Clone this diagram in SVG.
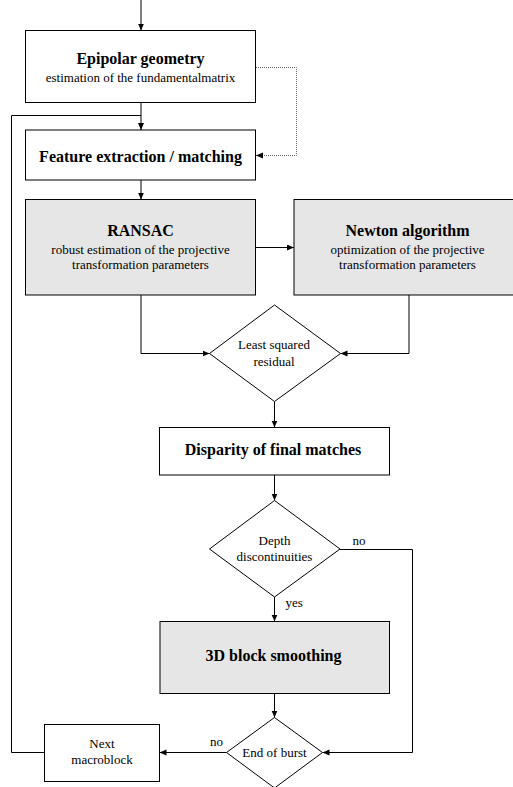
<svg xmlns="http://www.w3.org/2000/svg" width="513" height="787" viewBox="0 0 513 787">
  <style>
    .box { fill: #ffffff; stroke: #000; stroke-width: 1; }
    .shade { fill: #e6e6e6; stroke: #000; stroke-width: 1; }
    .dia { fill: #ffffff; stroke: #000; stroke-width: 1; }
    .wire { fill: none; stroke: #000; stroke-width: 1; }
    .dot { fill: none; stroke: #666; stroke-width: 1; stroke-dasharray: 1 1; }
    .title { font-family: "Liberation Serif", "Times New Roman", serif; font-weight: bold; font-size: 16px; fill: #000; text-anchor: middle; }
    .sub { font-family: "Liberation Serif", "Times New Roman", serif; font-size: 13px; fill: #000; text-anchor: middle; }
    .lbl { font-family: "Liberation Serif", "Times New Roman", serif; font-size: 13px; fill: #000; }
  </style>
  <defs>
    <marker id="arr" markerUnits="userSpaceOnUse" markerWidth="8" markerHeight="7" refX="7" refY="3" orient="auto">
      <path d="M0,0 L7,3 L0,6 z" fill="#000"/>
    </marker>
  </defs>

  <rect width="513" height="787" fill="#ffffff"/>

  <!-- connectors -->
  <g id="connectors">
    <line class="wire" x1="141" y1="0" x2="141" y2="30.5" marker-end="url(#arr)"/>
    <line class="wire" x1="141" y1="102.5" x2="141" y2="130" marker-end="url(#arr)"/>
    <polyline class="dot" points="256,67.5 296.5,67.5 296.5,155.5 256,155.5" marker-end="url(#arr)"/>
    <line class="wire" x1="141" y1="180" x2="141" y2="199.5" marker-end="url(#arr)"/>
    <line class="wire" x1="256" y1="247.5" x2="294" y2="247.5" marker-end="url(#arr)"/>
    <polyline class="wire" points="141,295 141,353.5 209.5,353.5" marker-end="url(#arr)"/>
    <polyline class="wire" points="409,295 409,353.5 340.5,353.5" marker-end="url(#arr)"/>
    <line class="wire" x1="274.5" y1="401.5" x2="274.5" y2="427.5" marker-end="url(#arr)"/>
    <line class="wire" x1="274.5" y1="475" x2="274.5" y2="500.5" marker-end="url(#arr)"/>
    <line class="wire" x1="274.5" y1="597" x2="274.5" y2="621.5" marker-end="url(#arr)"/>
    <line class="wire" x1="274.5" y1="693.5" x2="274.5" y2="717.5" marker-end="url(#arr)"/>
    <polyline class="wire" points="340,549.5 412.5,549.5 412.5,752.5 322.5,752.5" marker-end="url(#arr)"/>
    <line class="wire" x1="226.5" y1="752.5" x2="159.5" y2="752.5" marker-end="url(#arr)"/>
    <polyline class="wire" points="44.5,752.5 11.5,752.5 11.5,115.5 141,115.5"/>
    <text class="lbl" x="352.5" y="544.5">no</text>
    <text class="lbl" x="285.5" y="607">yes</text>
    <text class="lbl" x="210" y="746">no</text>
  </g>

  <g id="epipolar">
    <rect class="box" x="25.5" y="30.5" width="230" height="72"/>
    <text class="title" x="140.5" y="64">Epipolar geometry</text>
    <text class="sub" x="140.5" y="81.5">estimation of the fundamentalmatrix</text>
  </g>

  <g id="feature">
    <rect class="box" x="25.5" y="130" width="230" height="50"/>
    <text class="title" x="140.5" y="161.5">Feature extraction / matching</text>
  </g>

  <g id="ransac">
    <rect class="shade" x="25.5" y="199.5" width="230" height="95.5"/>
    <text class="title" x="140.5" y="235.5">RANSAC</text>
    <text class="sub" x="140.5" y="253.5">robust estimation of the projective</text>
    <text class="sub" x="140.5" y="269">transformation parameters</text>
  </g>

  <g id="newton">
    <rect class="shade" x="294" y="199.5" width="227" height="95.5"/>
    <text class="title" x="407.5" y="235.5">Newton algorithm</text>
    <text class="sub" x="407.5" y="253.5">optimization of the projective</text>
    <text class="sub" x="407.5" y="269">transformation parameters</text>
  </g>

  <g id="residual">
    <polygon class="dia" points="274.5,305 340.5,353.5 274.5,401.5 209.5,353.5"/>
    <text class="sub" x="274" y="348.5">Least squared</text>
    <text class="sub" x="274" y="366">residual</text>
  </g>

  <g id="disparity">
    <rect class="box" x="159.5" y="427.5" width="230" height="47.5"/>
    <text class="title" x="273" y="455">Disparity of final matches</text>
  </g>

  <g id="depth">
    <polygon class="dia" points="274.5,500.5 340,549 274.5,597 209.5,549"/>
    <text class="sub" x="274.5" y="545">Depth</text>
    <text class="sub" x="274.5" y="561">discontinuities</text>
  </g>

  <g id="smoothing">
    <rect class="shade" x="160" y="621.5" width="229.5" height="72"/>
    <text class="title" x="273.5" y="661">3D block smoothing</text>
  </g>

  <g id="burst">
    <polygon class="dia" points="274.5,717.5 322.5,752.5 274.5,788 226.5,752.5"/>
    <text class="sub" x="274.5" y="757">End of burst</text>
  </g>

  <g id="next">
    <rect class="box" x="44.5" y="724.5" width="115" height="57"/>
    <text class="sub" x="102" y="748">Next</text>
    <text class="sub" x="102" y="764">macroblock</text>
  </g>
</svg>
